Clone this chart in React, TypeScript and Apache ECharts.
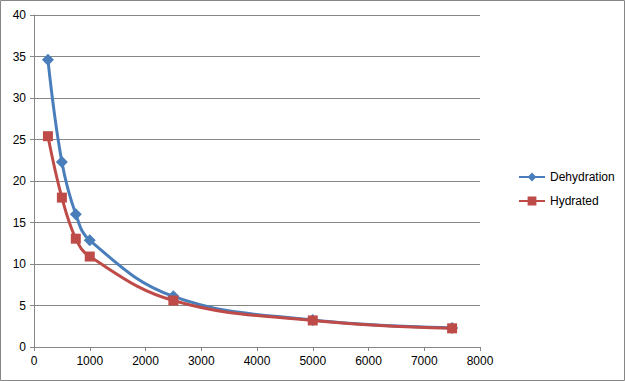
import React, { useEffect, useRef } from "react";
import * as echarts from "echarts";

const xValues = [250, 500, 750, 1000, 2500, 5000, 7500];
const dehydration = [34.6, 22.3, 16.0, 12.85, 6.1, 3.25, 2.3];
const hydrated = [25.4, 18.0, 13.05, 10.9, 5.6, 3.2, 2.25];
const seriesNames = ["Dehydration", "Hydrated"];

export default function App() {
  const ref = useRef<HTMLDivElement>(null);
  useEffect(() => {
    document.body.style.margin = "0";
    const chart = echarts.init(ref.current!, null, { renderer: "svg" });
    const axisColor = "#868686";
    const font = "Liberation Sans";
    chart.setOption({
      animation: false,
      backgroundColor: "#ffffff",
      graphic: [
        {
          type: "rect",
          shape: { x: 0.5, y: 0.5, width: 624, height: 380 },
          style: { fill: "none", stroke: axisColor, lineWidth: 1 },
          silent: true,
        },
      ],
      grid: { left: 34, right: 145, top: 15, bottom: 34 },
      legend: {
        orient: "vertical",
        left: 513,
        top: 166,
        itemWidth: 26,
        itemHeight: 11,
        itemGap: 12,
        data: seriesNames,
        textStyle: { fontFamily: font, fontSize: 12, color: "#000" },
      },
      xAxis: {
        type: "value",
        min: 0,
        max: 8000,
        interval: 1000,
        axisLine: { show: true, onZero: false, lineStyle: { color: axisColor } },
        axisTick: { show: true, length: 4, lineStyle: { color: axisColor } },
        splitLine: { show: false },
        axisLabel: {
          fontFamily: font,
          fontSize: 12,
          color: "#000",
          margin: 8,
          formatter: (v: number) => String(v),
        },
      },
      yAxis: {
        type: "value",
        min: 0,
        max: 40,
        interval: 5,
        axisLine: { show: true, lineStyle: { color: axisColor } },
        axisTick: { show: true, length: 4, lineStyle: { color: axisColor } },
        splitLine: { show: true, lineStyle: { color: axisColor } },
        axisLabel: { fontFamily: font, fontSize: 12, color: "#000", margin: 8 },
      },
      series: [
        {
          name: seriesNames[0],
          type: "line",
          smooth: 0.4,
          data: xValues.map((x, i) => [x, dehydration[i]]),
          symbol: "diamond",
          symbolSize: 12,
          lineStyle: { color: "#4A7EBB", width: 3 },
          itemStyle: { color: "#4A7EBB" },
          z: 2,
        },
        {
          name: seriesNames[1],
          type: "line",
          smooth: 0.4,
          data: xValues.map((x, i) => [x, hydrated[i]]),
          symbol: "rect",
          symbolSize: 10,
          lineStyle: { color: "#BE4B48", width: 3 },
          itemStyle: { color: "#BE4B48" },
          z: 3,
        },
      ],
    });
    return () => chart.dispose();
  }, []);
  return <div ref={ref} style={{ width: 625, height: 381 }} />;
}
